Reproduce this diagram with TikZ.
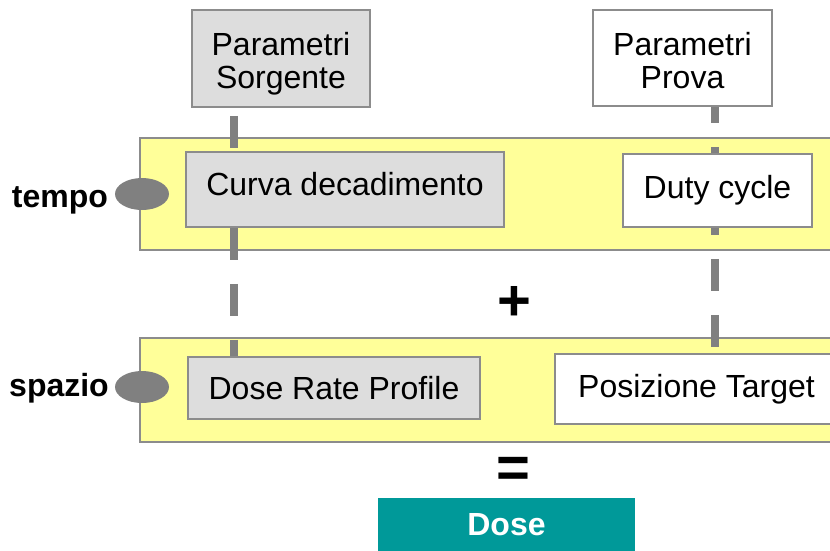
\documentclass[tikz,border=0pt]{standalone}
\usepackage{fontspec}
\setmainfont{Liberation Sans}
\usetikzlibrary{shapes.geometric, positioning}
\definecolor{boxgray}{HTML}{DDDDDD}
\definecolor{edgegray}{HTML}{8C8C8C}
\definecolor{bandyellow}{HTML}{FFFF99}
\definecolor{doseteal}{HTML}{009999}
\definecolor{linkgray}{HTML}{808080}
\pgfdeclarelayer{back}
\pgfdeclarelayer{mid}
\pgfsetlayers{back,mid,main}

\begin{document}
\begin{tikzpicture}[x=1pt, y=-1pt,
    font=\fontsize{32}{33}\selectfont,
    box/.style={draw=edgegray, line width=1.6pt, inner sep=0pt, align=center},
    graybox/.style={box, fill=boxgray},
    whitebox/.style={box, fill=white},
    band/.style={draw=edgegray, line width=1.6pt, fill=bandyellow},
    dot/.style={ellipse, fill=linkgray, minimum width=54pt, minimum height=32pt, inner sep=0pt},
    axislabel/.style={font=\fontsize{32}{34}\selectfont\bfseries},
    sign/.style={font=\fontsize{58}{60}\selectfont\bfseries},
    link/.style={draw=linkgray, line width=8pt, dash pattern=on 32pt off 24pt}]
    \useasboundingbox (0, 0) rectangle (830, 550);

    % bande tempo / spazio
    \begin{pgfonlayer}{back}
        \draw[band] (140, 138) rectangle (845, 250);
        \draw[band] (140, 338) rectangle (845, 442);
    \end{pgfonlayer}

    % parametri
    \node[graybox, minimum width=178pt, minimum height=97pt] (sorg) at (281, 58.5)
        {\raisebox{-7pt}[\height][\depth]{\begin{tabular}{@{}c@{}}Parametri\\Sorgente\end{tabular}}};
    \node[whitebox, minimum width=179pt, minimum height=96pt] (prova) at (682.5, 58)
        {\raisebox{-7pt}[\height][\depth]{\begin{tabular}{@{}c@{}}Parametri\\Prova\end{tabular}}};

    % tempo
    \node[graybox, minimum width=318pt, minimum height=75pt] (curva) at (345, 189.5)
        {\raisebox{5pt}[\height][\depth]{Curva decadimento}};
    \node[whitebox, minimum width=189pt, minimum height=73pt] (duty) at (717.5, 190.5) {Duty cycle};

    % spazio
    \node[graybox, minimum width=292pt, minimum height=62pt] (drp) at (334, 388) {Dose Rate Profile};
    \node[whitebox, minimum width=283pt, minimum height=70pt] (pos) at (696.5, 389) {Posizione Target};

    \node[axislabel] (tempo) at (60, 200) {tempo};
    \node[axislabel] (spazio) at (59, 388) {spazio};
    \node[dot] (tdot) at (142, 194) {};
    \node[dot] (sdot) at (142, 387) {};

    \node[sign] (piu) at (514, 303) {+};
    \node[sign] (uguale) at (513, 472) {=};

    \node[fill=doseteal, text=white, font=\fontsize{32}{34}\selectfont\bfseries,
          minimum width=257pt, minimum height=54pt, inner sep=0pt] (dose) at (506.5, 525) {Dose};

    % linee tratteggiate
    \coordinate (lx) at (234, 0);
    \coordinate (rx) at (715, 0);
    \begin{pgfonlayer}{mid}
        \draw[link, dash phase=48pt] (sorg.south -| lx) -- (drp.north -| lx);
        \draw[link, dash phase=16pt] (prova.south -| rx) -- (pos.north -| rx);
    \end{pgfonlayer}
\end{tikzpicture}
\end{document}
